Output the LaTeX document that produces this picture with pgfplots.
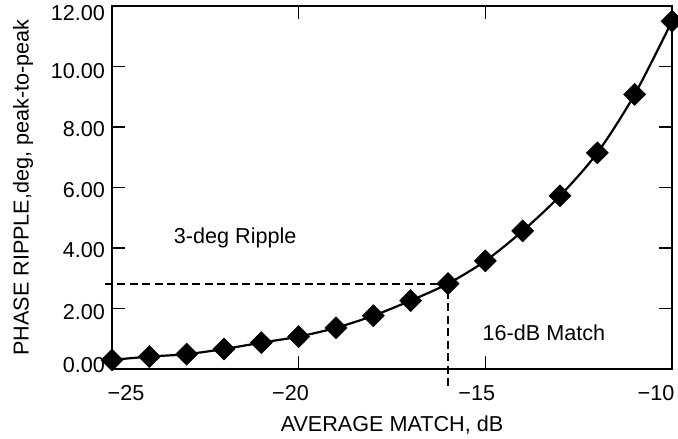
\documentclass[border=0pt]{standalone}
\usepackage{fontspec}
\setmainfont{Liberation Sans}
\usepackage{pgfplots}
\pgfplotsset{compat=1.18}

% Phase ripple versus average match
\pgfplotstableread{
x    y
-25  0.31
-24  0.42
-23  0.50
-22  0.67
-21  0.88
-20  1.08
-19  1.37
-18  1.77
-17  2.27
-16  2.83
-15  3.58
-14  4.57
-13  5.73
-12  7.15
-11  9.08
-10  11.50
}\ripple

\begin{document}
\begin{tikzpicture}[font=\fontsize{21.6}{25}\selectfont]
\useasboundingbox (-112pt,-69.7pt) rectangle (566pt,369.3pt);
\begin{axis}[
  at={(0pt,0pt)}, anchor=south west,
  scale only axis, width=560pt, height=363.3pt,
  xmin=-25, xmax=-10, ymin=0, ymax=12,
  clip=false,
  axis line style={line width=2pt, black},
  xtick={-25,-20,-15,-10},
  xticklabels={{\hspace*{28pt}−25},{−20\hspace*{16.4pt}},{−15\hspace*{17.2pt}},{−10\hspace*{32pt}}},
  ytick={0,2,4,6,8,10,12},
  yticklabels={
    {\raisebox{-3.6pt}[0pt][0pt]{0.00}},
    {\raisebox{-10.9pt}[0pt][0pt]{2.00}},
    {\raisebox{-9.4pt}[0pt][0pt]{4.00}},
    {\raisebox{-10.0pt}[0pt][0pt]{6.00}},
    {\raisebox{-9.5pt}[0pt][0pt]{8.00}},
    {\raisebox{-11.9pt}[0pt][0pt]{10.00}},
    {\raisebox{-14.9pt}[0pt][0pt]{12.00}}},
  major tick length=13pt,
  every tick/.style={black, line width=1.5pt},
  xticklabel style={yshift=-12.5pt},
  yticklabel style={xshift=-3.5pt},
  xlabel={AVERAGE MATCH, dB},
  ylabel={PHASE RIPPLE,deg, peak-to-peak},
  every axis x label/.style={at={(axis description cs:0.5,-0.170)}, anchor=base},
  every axis y label/.style={at={(axis description cs:-0.149,0.5)}, rotate=90, anchor=base},
]
% reference lines for the 3-deg / 16-dB operating point
\addplot[black, line width=2.2pt, dash pattern=on 8pt off 4.5pt]
  coordinates {(-25.19,2.83) (-16,2.83) (-16,-0.62)};
\addplot[black, line width=2.2pt, smooth, mark=square*,
  mark size=7.8pt, mark options={rotate=45, solid, line width=0.5pt}]
  table[x=x, y=y] {\ripple};
\node[anchor=base] at (axis cs:-21.70,4.16) {3-deg Ripple};
\node[anchor=base] at (axis cs:-13.43,0.95) {16-dB Match};
\end{axis}
\end{tikzpicture}
\end{document}
